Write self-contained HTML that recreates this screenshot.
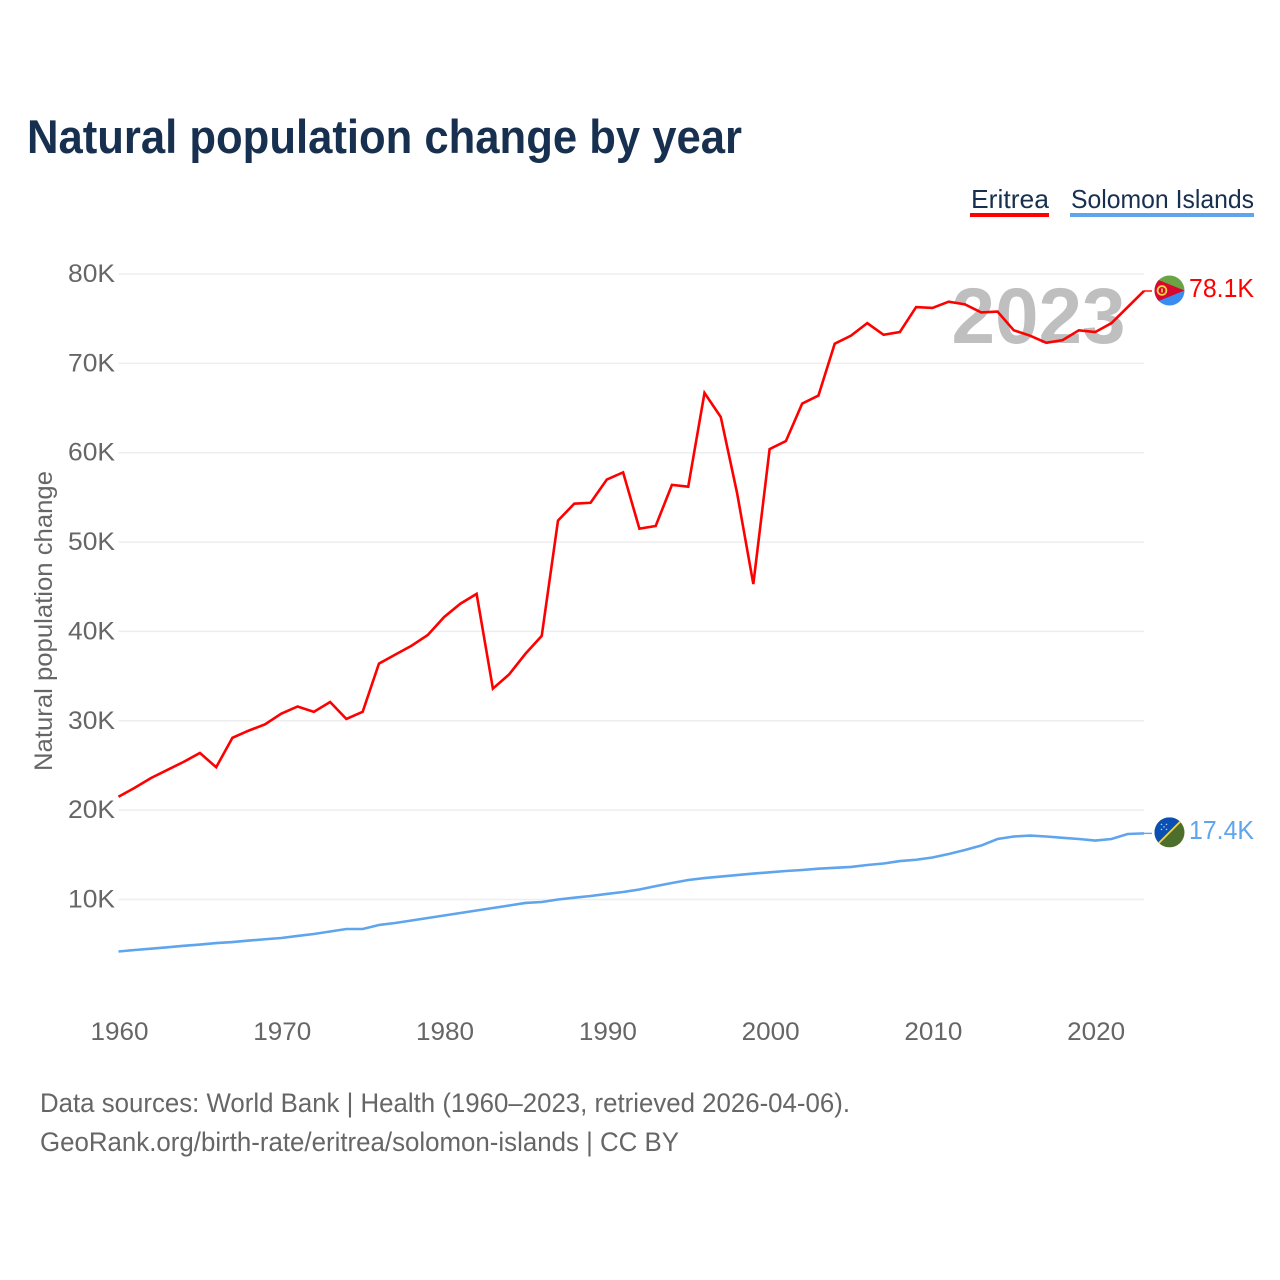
<!DOCTYPE html>
<html lang="en">
<head>
<meta charset="utf-8">
<title>Natural population change by year</title>
<style>
html,body{margin:0;padding:0;background:#fff;}
svg{display:block;font-family:"Liberation Sans",sans-serif;}
</style>
</head>
<body>
<svg id="chart" xmlns="http://www.w3.org/2000/svg" width="1280" height="1280" viewBox="0 0 1280 1280">
  <defs>
    <clipPath id="flag-clip"><circle cx="0" cy="0" r="15"/></clipPath>
  </defs>
  <rect x="0" y="0" width="1280" height="1280" fill="#fff"/>
  <text x="27" y="153" font-size="47" font-weight="700" fill="#18304f" textLength="715" lengthAdjust="spacingAndGlyphs">Natural population change by year</text>

  <g>
    <text x="971" y="208" font-size="26" fill="#18304f" textLength="78" lengthAdjust="spacingAndGlyphs">Eritrea</text>
    <rect x="970" y="213" width="79" height="4" fill="#ff0000"/>
  </g>
  <g>
    <text x="1071" y="208" font-size="26" fill="#18304f" textLength="183" lengthAdjust="spacingAndGlyphs">Solomon Islands</text>
    <rect x="1070" y="213" width="184" height="4" fill="#5ea5ee"/>
  </g>

  <g id="grid"></g>
  <g id="y-ticks"></g>
  <g id="x-ticks"></g>
  <text transform="translate(52 771) rotate(-90)" x="0" y="0" font-size="25" fill="#666" textLength="300" lengthAdjust="spacingAndGlyphs">Natural population change</text>
  <text x="1038.5" y="343" font-size="79" font-weight="700" fill="#bfbfbf" text-anchor="middle" textLength="174" lengthAdjust="spacingAndGlyphs">2023</text>
  <g id="series"></g>

  <g id="flag-eritrea" clip-path="url(#flag-clip)">
    <rect x="-15" y="-15" width="30" height="15" fill="#6aa544"/>
    <rect x="-15" y="0" width="30" height="15" fill="#3a8df0"/>
    <polygon points="-16,-12.5 15,0 -16,12.5" fill="#d8082e"/>
    <circle cx="-7.5" cy="0" r="4.4" fill="none" stroke="#f8d34a" stroke-width="1.8"/>
    <rect x="-8.3" y="-2" width="1.6" height="4" fill="#f8d34a"/>
  </g>
  <g id="flag-solomon" clip-path="url(#flag-clip)">
    <rect x="-15" y="-15" width="30" height="30" fill="#4c6f2b"/>
    <polygon points="-16,-16 16,-16 -16,16" fill="#0a50b4"/>
    <line x1="-16" y1="16" x2="16" y2="-16" stroke="#f5d44e" stroke-width="1.8"/>
    <g fill="#b9cfee">
      <circle cx="-8" cy="-8" r="0.8"/><circle cx="-3" cy="-8" r="0.8"/><circle cx="-5.5" cy="-5.5" r="0.8"/><circle cx="-8" cy="-3" r="0.8"/><circle cx="-3" cy="-3" r="0.8"/>
    </g>
  </g>
  <g id="end-labels"></g>

  <text x="40" y="1112" font-size="26.5" fill="#666" textLength="810" lengthAdjust="spacingAndGlyphs">Data sources: World Bank | Health (1960–2023, retrieved 2026-04-06).</text>
  <text x="40" y="1151" font-size="26.5" fill="#666" textLength="639" lengthAdjust="spacingAndGlyphs">GeoRank.org/birth-rate/eritrea/solomon-islands | CC BY</text>
</svg>
<script>
const years = [1960,1961,1962,1963,1964,1965,1966,1967,1968,1969,1970,1971,1972,1973,1974,1975,1976,1977,1978,1979,1980,1981,1982,1983,1984,1985,1986,1987,1988,1989,1990,1991,1992,1993,1994,1995,1996,1997,1998,1999,2000,2001,2002,2003,2004,2005,2006,2007,2008,2009,2010,2011,2012,2013,2014,2015,2016,2017,2018,2019,2020,2021,2022,2023];
const eritreaValues = [21.5,22.5,23.6,24.5,25.4,26.4,24.8,28.1,28.9,29.6,30.8,31.6,31.0,32.1,30.2,31.0,36.4,37.4,38.4,39.6,41.6,43.1,44.2,33.6,35.2,37.5,39.5,52.4,54.3,54.4,57.0,57.8,51.5,51.8,56.4,56.2,66.7,64.0,55.5,45.3,60.4,61.3,65.5,66.4,72.2,73.1,74.5,73.2,73.5,76.3,76.2,76.9,76.6,75.7,75.8,73.7,73.1,72.3,72.6,73.7,73.5,74.5,76.3,78.1];
const solomonValues = [4.18,4.35,4.5,4.65,4.82,4.96,5.13,5.24,5.4,5.55,5.69,5.92,6.14,6.42,6.7,6.7,7.15,7.37,7.65,7.93,8.21,8.49,8.77,9.05,9.33,9.61,9.72,10.0,10.2,10.39,10.62,10.84,11.12,11.5,11.85,12.18,12.4,12.57,12.74,12.9,13.04,13.19,13.3,13.45,13.55,13.64,13.86,14.03,14.3,14.45,14.7,15.09,15.54,16.04,16.77,17.05,17.16,17.05,16.9,16.77,16.6,16.77,17.33,17.4];
const yTickValues = [10,20,30,40,50,60,70,80];
const xTickValues = [1960,1970,1980,1990,2000,2010,2020];

const NS = 'http://www.w3.org/2000/svg';
function xScale(year) { return 118.5 + (year - 1960) * (1144 - 118.5) / 63; }
function yScale(v) { return 899.5 - (v - 10) * (899.5 - 274) / 70; }
function make(tag, attrs) {
  const el = document.createElementNS(NS, tag);
  for (const k in attrs) el.setAttribute(k, attrs[k]);
  return el;
}
function linePoints(values) {
  return values.map(function (v, i) { return xScale(years[i]).toFixed(2) + ',' + yScale(v).toFixed(2); }).join(' ');
}

const gridG = document.getElementById('grid');
const yG = document.getElementById('y-ticks');
yTickValues.forEach(function (v) {
  const gl = make('line', {x1: 118.5, x2: 1144, y1: yScale(v), y2: yScale(v), stroke: '#eeeeee', 'stroke-width': 1.5});
  
  
  gridG.appendChild(gl);
  const t = make('text', {x: 115, y: yScale(v) + 8, 'font-size': 25, fill: '#666', 'text-anchor': 'end', textLength: 47, lengthAdjust: 'spacingAndGlyphs'});
  
  
  t.textContent = v + 'K';
  yG.appendChild(t);
});

const xG = document.getElementById('x-ticks');
xTickValues.forEach(function (yr) {
  const t = make('text', {x: xScale(yr) + 1, y: 1040, 'font-size': 25, fill: '#666', 'text-anchor': 'middle', textLength: 58, lengthAdjust: 'spacingAndGlyphs'});
  
  
  t.textContent = yr;
  xG.appendChild(t);
});

const eritreaLast = eritreaValues[eritreaValues.length - 1];
const solomonLast = solomonValues[solomonValues.length - 1];

const seriesG = document.getElementById('series');
const lineEritrea = make('polyline', {points: linePoints(eritreaValues), fill: 'none', stroke: '#ff0000', 'stroke-width': 2.6, 'stroke-linejoin': 'miter'});


seriesG.appendChild(lineEritrea);
const lineSolomon = make('polyline', {points: linePoints(solomonValues), fill: 'none', stroke: '#5ea5ee', 'stroke-width': 2.6, 'stroke-linejoin': 'miter'});


seriesG.appendChild(lineSolomon);
const connectorEritrea = make('line', {x1: 1144, x2: 1152, y1: yScale(eritreaLast), y2: yScale(eritreaLast), stroke: '#ff0000', 'stroke-width': 1.4});


seriesG.appendChild(connectorEritrea);
const connectorSolomon = make('line', {x1: 1144, x2: 1152, y1: yScale(solomonLast), y2: yScale(solomonLast), stroke: '#5ea5ee', 'stroke-width': 1.4});


seriesG.appendChild(connectorSolomon);

document.getElementById('flag-eritrea').setAttribute('transform', 'translate(1169.5 ' + (yScale(eritreaLast) - 0.5) + ')');
document.getElementById('flag-solomon').setAttribute('transform', 'translate(1169.5 ' + (yScale(solomonLast) - 1) + ')');

const labelsG = document.getElementById('end-labels');
const labelEritrea = make('text', {x: 1189, y: yScale(eritreaLast) + 6, 'font-size': 25.5, fill: '#ff0000', textLength: 65, lengthAdjust: 'spacingAndGlyphs'});


labelEritrea.textContent = eritreaLast.toFixed(1) + 'K';
labelsG.appendChild(labelEritrea);
const labelSolomon = make('text', {x: 1189, y: yScale(solomonLast) + 5.6, 'font-size': 25.5, fill: '#5ea5ee', textLength: 65, lengthAdjust: 'spacingAndGlyphs'});


labelSolomon.textContent = solomonLast.toFixed(1) + 'K';
labelsG.appendChild(labelSolomon);
</script>
</body>
</html>
